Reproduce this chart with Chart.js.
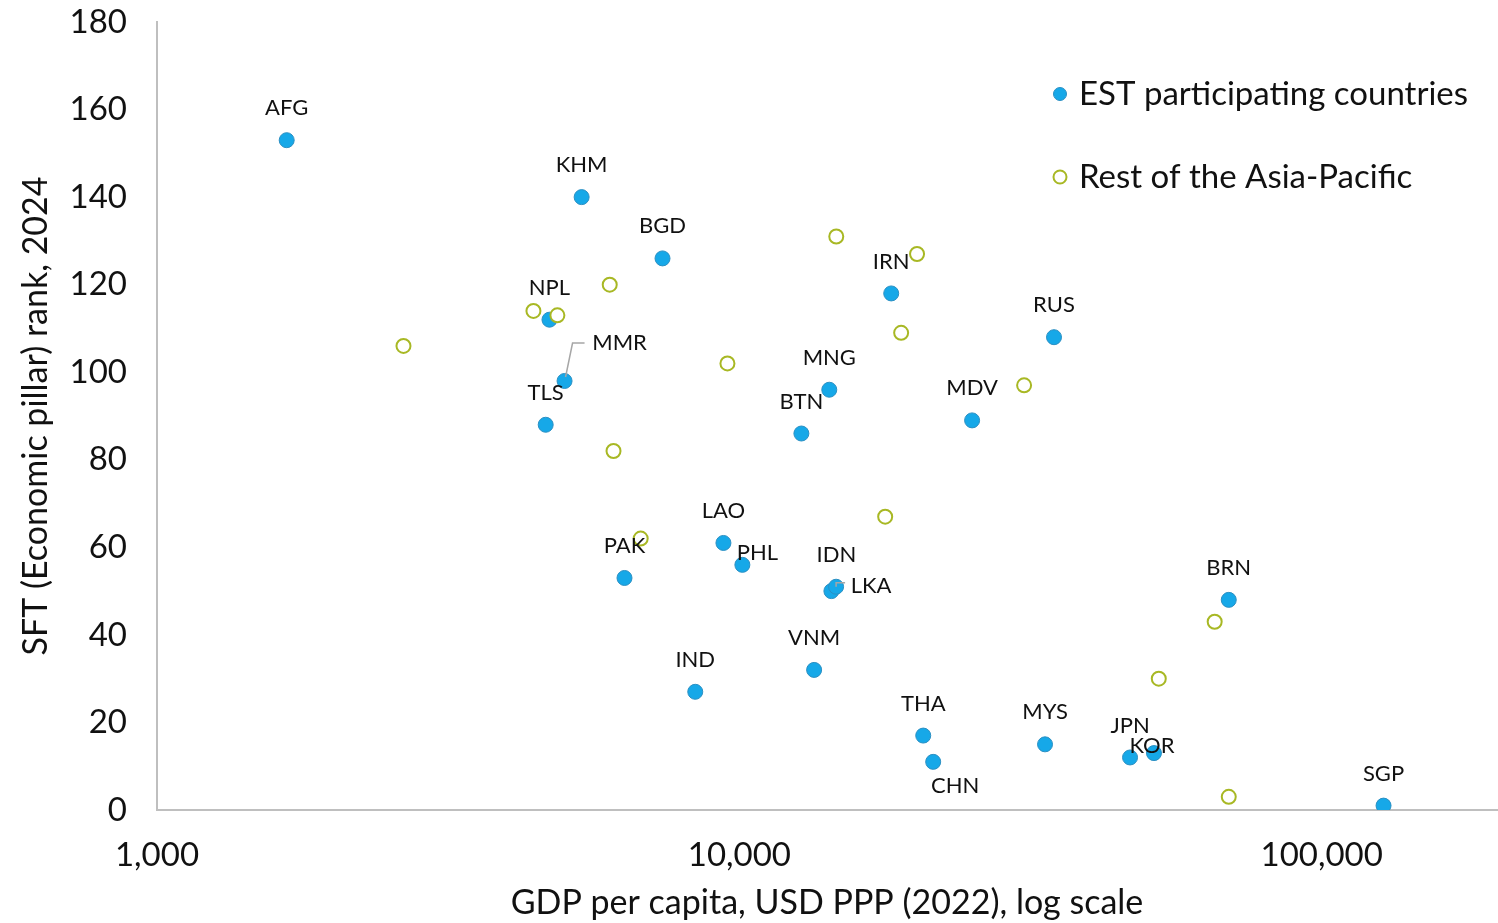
<!DOCTYPE html>
<html lang="en">

<head>
    <meta charset="UTF-8">
    <title>SFT rank vs GDP per capita</title>
    <style>
        html, body {
            margin: 0;
            padding: 0;
            background: #fff;
        }
        #wrap {
            width: 1498px;
            height: 923px;
        }
    </style>
</head>

<body>
    <div id="wrap">
        <canvas id="myChart"></canvas>
    </div>

    <script src="https://cdn.jsdelivr.net/npm/chart.js"></script>

    <script>
        // EST participating countries
        var estCodes = ['AFG', 'KHM', 'BGD', 'NPL', 'MMR', 'TLS', 'PAK', 'LAO', 'PHL', 'IND', 'BTN', 'MNG', 'IDN',
            'LKA', 'VNM', 'IRN', 'MDV', 'RUS', 'THA', 'CHN', 'MYS', 'JPN', 'KOR', 'BRN', 'SGP'];
        var estGdp = [1670, 5360, 7380, 4720, 5010, 4650, 6350, 9390, 10120, 8400, 12780, 14270, 14390,
            14660, 13440, 18230, 25100, 34700, 20690, 21520, 33490, 46870, 51520, 69250, 127700];
        var estRank = [153, 140, 126, 112, 98, 88, 53, 61, 56, 27, 86, 96, 50,
            51, 32, 118, 89, 108, 17, 11, 15, 12, 13, 48, 1];

        // Rest of the Asia-Pacific
        var restGdp = [2650, 4430, 4870, 5990, 6080, 6770, 9540, 14670, 20190, 18960, 17800, 30830, 65500, 52510, 69250];
        var restRank = [106, 114, 113, 120, 82, 62, 102, 131, 127, 109, 67, 97, 43, 30, 3];

        var xTicks = [1000, 10000, 100000];
        var seriesNames = ['EST participating countries', 'Rest of the Asia-Pacific'];

        var FONT = 'Lato, "DejaVu Sans", sans-serif';
        var NARROW = '"Liberation Sans Narrow", "Arial Narrow", Lato, sans-serif';
        var BLUE = '#16A8E8';
        var BLUE_EDGE = '#2B8FC2';
        var GREEN = '#A8B824';

        // label placement (pixel offsets from the point), default is centred above
        var labelOffsets = {
            MMR: { dx: 55, dy: -38, lead: [[1, -4], [8, -38], [20, -38]] },
            PHL: { dx: 15, dy: -12 },
            IDN: { dx: 5, dy: -36 },
            LKA: { dx: 35, dy: -1, lead: [[0, 0], [0, -4], [9, -4]] },
            CHN: { dx: 22, dy: 24 },
            KOR: { dx: -2, dy: -7 }
        };

        function toPoints(xs, ys) {
            var out = [];
            for (var i = 0; i < xs.length; i++) {
                out.push({ x: xs[i], y: ys[i] });
            }
            return out;
        }

        const pointLabels = {
            id: 'pointLabels',
            afterDatasetsDraw(chart) {
                var c = chart.ctx;
                var meta = chart.getDatasetMeta(0);
                c.save();
                c.font = '22px ' + FONT;
                c.fillStyle = '#111';
                c.textAlign = 'center';
                c.textBaseline = 'middle';
                meta.data.forEach((pt, i) => {
                    var code = estCodes[i];
                    var off = labelOffsets[code] || { dx: 0, dy: -32 };
                    if (off.lead) {
                        c.strokeStyle = '#a6a6a6';
                        c.lineWidth = 1.5;
                        c.beginPath();
                        off.lead.forEach((p, k) => {
                            if (k == 0) c.moveTo(pt.x + p[0], pt.y + p[1]);
                            else c.lineTo(pt.x + p[0], pt.y + p[1]);
                        });
                        c.stroke();
                    }
                    c.fillText(code, pt.x + off.dx, pt.y + off.dy);
                });
                c.restore();
            }
        };

        const sideLegend = {
            id: 'sideLegend',
            afterDraw(chart) {
                var c = chart.ctx;
                var rows = [
                    { y: 94, fill: BLUE, stroke: BLUE_EDGE, w: 1 },
                    { y: 177, fill: '#fff', stroke: GREEN, w: 2 }
                ];
                c.save();
                c.font = '33px ' + FONT;
                c.textBaseline = 'middle';
                c.textAlign = 'left';
                rows.forEach((r, i) => {
                    c.beginPath();
                    c.arc(1060, r.y, 6.5, 0, Math.PI * 2);
                    c.fillStyle = r.fill;
                    c.fill();
                    c.lineWidth = r.w;
                    c.strokeStyle = r.stroke;
                    c.stroke();
                    c.fillStyle = '#111';
                    c.fillText(seriesNames[i], 1079, r.y);
                });
                c.restore();
            }
        };

        const ctx = document.getElementById('myChart');

        var myChart = new Chart(ctx, {
            type: 'scatter',
            data: {
                datasets: [{
                    label: seriesNames[0],
                    data: toPoints(estGdp, estRank),
                    backgroundColor: BLUE,
                    borderColor: BLUE_EDGE,
                    borderWidth: 1,
                    pointRadius: 7.5,
                    order: 1
                }, {
                    label: seriesNames[1],
                    data: toPoints(restGdp, restRank),
                    backgroundColor: '#fff',
                    borderColor: GREEN,
                    borderWidth: 2,
                    pointRadius: 7,
                    order: 0
                }]
            },
            options: {
                responsive: true,
                maintainAspectRatio: false,
                animation: false,
                layout: {
                    autoPadding: false,
                    padding: { top: 22, right: 1, left: 0, bottom: 0 }
                },
                scales: {
                    x: {
                        type: 'logarithmic',
                        min: 1000,
                        max: 200000,
                        afterBuildTicks: (scale) => {
                            scale.ticks = xTicks.map(v => ({ value: v }));
                        },
                        afterFit: (scale) => {
                            scale.height = 113;
                            scale.paddingLeft = 0;
                            scale.paddingRight = 0;
                        },
                        grid: { display: false, drawTicks: false },
                        border: { color: '#BFBFBF', width: 2 },
                        ticks: {
                            autoSkip: false,
                            maxRotation: 0,
                            padding: 26,
                            color: '#111',
                            font: { family: FONT, size: 33 },
                            callback: (v) => Number(v).toLocaleString('en-US')
                        },
                        title: {
                            display: true,
                            text: 'GDP per capita, USD PPP (2022), log scale',
                            color: '#111',
                            font: { family: FONT, size: 34 },
                            padding: { top: 0, bottom: 0 }
                        }
                    },
                    y: {
                        min: 0,
                        max: 180,
                        afterFit: (scale) => {
                            scale.width = 157;
                            scale.paddingTop = 0;
                            scale.paddingBottom = 0;
                        },
                        grid: { display: false, drawTicks: false },
                        border: { color: '#BFBFBF', width: 2 },
                        ticks: {
                            stepSize: 20,
                            padding: 30,
                            color: '#111',
                            font: { family: FONT, size: 33 }
                        },
                        title: {
                            display: true,
                            text: 'SFT (Economic pillar) rank, 2024',
                            color: '#111',
                            font: { family: NARROW, size: 34 },
                            padding: { top: 16, bottom: 0 }
                        }
                    }
                },
                plugins: {
                    legend: { display: false },
                    tooltip: { enabled: false }
                }
            },
            plugins: [pointLabels, sideLegend]
        });
    </script>

</body>

</html>
